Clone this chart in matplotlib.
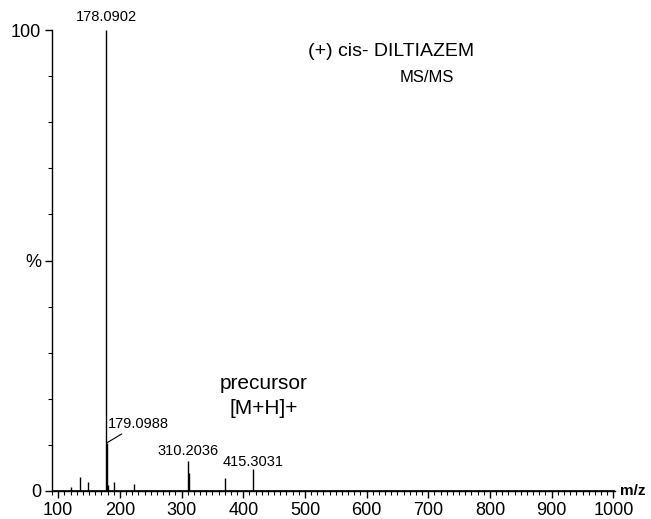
import matplotlib.pyplot as plt
from matplotlib.ticker import MultipleLocator

plt.rcParams['font.family'] = ['Liberation Sans', 'DejaVu Sans']

# peak list (m/z, relative intensity %)
mz = [120.6, 136.0, 149.0, 178.0902, 179.0988, 180.1, 191.0, 223.5,
      310.2036, 311.2, 370.0, 415.3031]
intensity = [0.8, 3.0, 2.0, 100.0, 10.5, 1.2, 2.0, 1.5,
             6.5, 3.9, 2.8, 4.8]

labelled = ['178.0902', '179.0988', '310.2036', '415.3031']

fig = plt.figure(figsize=(6.51, 5.19), dpi=100)
ax = fig.add_axes([0.08, 0.054, 0.865, 0.888])

ax.vlines(mz, 0, intensity, color='black', linewidth=1.0)
ax.axhline(0, color='black', linewidth=1.2)

ax.set_xlim(90, 1003)
ax.set_ylim(0, 100)

ax.spines['top'].set_visible(False)
ax.spines['right'].set_visible(False)
ax.spines['left'].set_linewidth(1.0)
ax.spines['bottom'].set_linewidth(1.0)

ax.xaxis.set_minor_locator(MultipleLocator(10))
ax.set_xticks(range(100, 1001, 100))
ax.yaxis.set_minor_locator(MultipleLocator(10))
ax.set_yticks([0, 50, 100])
ax.set_yticklabels(['0', '%', '100'])
ax.tick_params(axis='both', which='major', length=5, width=1, labelsize=13, pad=3)
ax.tick_params(axis='both', which='minor', length=3, width=0.8)

# peak labels
ax.text(178.09, 101.3, labelled[0], ha='center', va='bottom', fontsize=10.5)
ax.annotate(labelled[1], xy=(179.5, 10.5), xytext=(180, 14.5),
            ha='left', va='center', fontsize=10.5,
            arrowprops=dict(arrowstyle='-', color='black', lw=0.8,
                            shrinkA=0, shrinkB=0))
ax.text(310.2, 8.7, labelled[2], ha='center', va='center', fontsize=10.5)
ax.text(415.3, 6.3, labelled[3], ha='center', va='center', fontsize=10.5)

ax.text(433, 23.4, 'precursor', ha='center', va='center', fontsize=15)
ax.text(433, 17.9, '[M+H]+', ha='center', va='center', fontsize=15)

ax.text(0.455, 0.953, '(+) cis- DILTIAZEM', transform=ax.transAxes,
        ha='left', va='center', fontsize=14)
ax.text(0.617, 0.898, 'MS/MS', transform=ax.transAxes,
        ha='left', va='center', fontsize=12)

ax.text(1.008, 0.0, 'm/z', transform=ax.transAxes, ha='left', va='center',
        fontsize=11, fontweight='bold')

fig.savefig('out.png', dpi=100)
